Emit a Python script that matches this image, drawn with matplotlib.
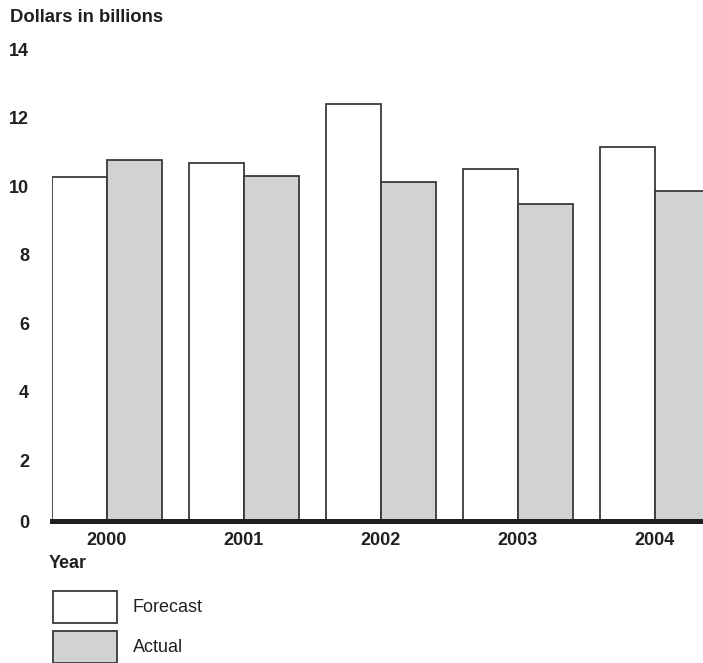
import matplotlib
matplotlib.use("Agg")
import matplotlib.pyplot as plt
from matplotlib.patches import Rectangle
import numpy as np

years = ["2000", "2001", "2002", "2003", "2004"]
forecast = [10.27, 10.67, 12.40, 10.50, 11.15]
actual = [10.76, 10.29, 10.11, 9.48, 9.86]
ytick_labels = ["0", "2", "4", "6", "8", "10", "12", "14"]

W, H = 703, 663
plt.rcParams['font.family'] = ['Liberation Sans', 'DejaVu Sans']
txt = '#231f20'
edge = '#3a3a3a'
gray = '#d1d2d4'

fig = plt.figure(figsize=(W / 100, H / 100), dpi=100)
ax = fig.add_axes([52 / W, (H - 521) / H, 651 / W, 472 / H])

ybot = 0.22
x = np.arange(len(years))
bw = 0.4
ax.bar(x - bw / 2, forecast, width=bw, color='white', edgecolor=edge, linewidth=1.3, zorder=2)
ax.bar(x + bw / 2, actual, width=bw, color=gray, edgecolor=edge, linewidth=1.3, zorder=2)
ax.axhline(ybot, color=txt, linewidth=3.6, zorder=3, clip_on=False)

ax.set_xlim(-0.4, -0.4 + 651 / 137)
ax.set_ylim(ybot, 14)
for s in ax.spines.values():
    s.set_visible(False)
ax.set_yticks([ybot, 2, 4, 6, 8, 10, 12, 14])
ax.set_yticklabels(ytick_labels, fontsize=13, fontweight='bold', color=txt)
ax.set_xticks(x)
ax.set_xticklabels(years, fontsize=13, fontweight='bold', color=txt)
ax.tick_params(axis='y', length=0, pad=16.5)
ax.tick_params(axis='x', length=0, pad=8)

fig.text(10 / W, 1 - 17 / H, 'Dollars in billions', fontsize=13.3, fontweight='bold',
         color=txt, va='center', ha='left')
fig.text(49 / W, 1 - 563 / H, 'Year', fontsize=13, fontweight='bold',
         color=txt, va='center', ha='left')

# legend
for (label, fc, ytop) in [('Forecast', 'white', 591), ('Actual', gray, 631)]:
    fig.add_artist(Rectangle((53 / W, 1 - (ytop + 32) / H), 64 / W, 32 / H,
                             transform=fig.transFigure, facecolor=fc,
                             edgecolor=edge, linewidth=1.3))
    fig.text(133 / W, 1 - (ytop + 17) / H, label, fontsize=13, color=txt,
             va='center', ha='left')

fig.savefig('out.png', dpi=100)
